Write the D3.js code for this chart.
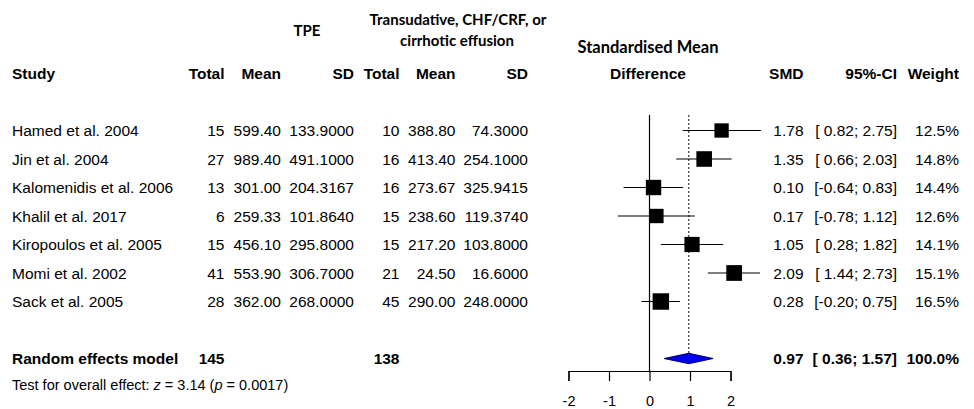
<!DOCTYPE html>
<html>
<head>
<meta charset="utf-8">
<script src="https://cdn.jsdelivr.net/npm/d3@7"></script>
<style>
  html, body { margin: 0; padding: 0; background: #fff; }
  svg text { white-space: pre; }
</style>
</head>
<body>
<svg id="chart" width="974" height="409"></svg>
<script>
// Forest plot: pleural fluid levels, TPE vs transudative effusions (SMD, random effects)
const studies = [
  "Hamed et al. 2004", "Jin et al. 2004", "Kalomenidis et al. 2006",
  "Khalil et al. 2017", "Kiropoulos et al. 2005", "Momi et al. 2002", "Sack et al. 2005"
];
const tpeTotal = [15, 27, 13, 6, 15, 41, 28];
const tpeMean = [599.40, 989.40, 301.00, 259.33, 456.10, 553.90, 362.00];
const tpeSD = [133.9000, 491.1000, 204.3167, 101.8640, 295.8000, 306.7000, 268.0000];
const ctrlTotal = [10, 16, 16, 15, 15, 21, 45];
const ctrlMean = [388.80, 413.40, 273.67, 238.60, 217.20, 24.50, 290.00];
const ctrlSD = [74.3000, 254.1000, 325.9415, 119.3740, 103.8000, 16.6000, 248.0000];
const smd = [1.78, 1.35, 0.10, 0.17, 1.05, 2.09, 0.28];
const ciLow = [0.82, 0.66, -0.64, -0.78, 0.28, 1.44, -0.20];
const ciHigh = [2.75, 2.03, 0.83, 1.12, 1.82, 2.73, 0.75];
const weights = [12.5, 14.8, 14.4, 12.6, 14.1, 15.1, 16.5];

const pooledLabel = "Random effects model";
const pooledTpeTotal = 145;
const pooledCtrlTotal = 138;
const pooledSMD = 0.97;
const pooledLow = 0.36;
const pooledHigh = 1.57;
const pooledWeight = 100.0;
const overallZ = "3.14";
const overallP = "0.0017";

const xTicks = [-2, -1, 0, 1, 2];

const svg = d3.select("#chart");
const ARIAL = "'Liberation Sans', Arial, sans-serif";
const CAL = "Lato, 'Open Sans', sans-serif";
const FS = 15.5;

const x = d3.scaleLinear().domain([-2, 2]).range([568.5, 730.5]);
const y = d3.scaleLinear().domain([0, studies.length - 1]).range([130.5, 301.5]);
const yPooled = 358.5;
const axisY = 371;

// column anchors (right-aligned text columns)
const col = {
  study: 12, tpeN: 224.5, tpeM: 281, tpeS: 354,
  ctlN: 399.5, ctlM: 455.5, ctlS: 528, smd: 803.5, ci: 897, w: 959
};

const fmtCI = (lo, hi) => "[" + (lo >= 0 ? " " : "") + lo.toFixed(2) + "; " + hi.toFixed(2) + "]";

function txt(g, xPos, yPos, s, anchor, opts = {}) {
  return g.append("text")
    .attr("x", xPos).attr("y", yPos)
    .attr("text-anchor", anchor)
    .attr("dominant-baseline", "central")
    .attr("font-family", opts.family || ARIAL)
    .attr("font-size", opts.size || FS)
    .attr("font-weight", opts.bold ? "bold" : "normal")
    .attr("fill", "#000")
    .text(s);
}

// header
const head = svg.append("g");
txt(head, 307, 30, "TPE", "middle", { family: CAL, bold: true, size: 15 });
txt(head, 458, 19, "Transudative, CHF/CRF, or", "middle", { family: CAL, bold: true, size: 15 });
txt(head, 457, 40, "cirrhotic effusion", "middle", { family: CAL, bold: true, size: 15 });
txt(head, 648, 46.5, "Standardised Mean", "middle", { family: CAL, bold: true, size: 16.5 });
const hy = 73.5;
txt(head, col.study, hy, "Study", "start", { bold: true });
txt(head, col.tpeN, hy, "Total", "end", { bold: true });
txt(head, col.tpeM, hy, "Mean", "end", { bold: true });
txt(head, col.tpeS, hy, "SD", "end", { bold: true });
txt(head, col.ctlN, hy, "Total", "end", { bold: true });
txt(head, col.ctlM, hy, "Mean", "end", { bold: true });
txt(head, col.ctlS, hy, "SD", "end", { bold: true });
txt(head, 648, hy, "Difference", "middle", { bold: true });
txt(head, col.smd, hy, "SMD", "end", { bold: true });
txt(head, col.ci, hy, "95%-CI", "end", { bold: true });
txt(head, col.w, hy, "Weight", "end", { bold: true });

// reference lines
svg.append("line")
  .attr("x1", x(0)).attr("x2", x(0))
  .attr("y1", 115).attr("y2", axisY)
  .attr("stroke", "#000").attr("stroke-width", 1.2);
svg.append("line")
  .attr("x1", x(pooledSMD)).attr("x2", x(pooledSMD))
  .attr("y1", 115).attr("y2", yPooled - 5)
  .attr("stroke", "#333").attr("stroke-width", 1.2)
  .attr("stroke-dasharray", "2,2");

// study rows
const rows = svg.append("g");
studies.forEach((name, i) => {
  const yy = y(i);
  txt(rows, col.study, yy, name, "start");
  txt(rows, col.tpeN, yy, String(tpeTotal[i]), "end");
  txt(rows, col.tpeM, yy, tpeMean[i].toFixed(2), "end");
  txt(rows, col.tpeS, yy, tpeSD[i].toFixed(4), "end");
  txt(rows, col.ctlN, yy, String(ctrlTotal[i]), "end");
  txt(rows, col.ctlM, yy, ctrlMean[i].toFixed(2), "end");
  txt(rows, col.ctlS, yy, ctrlSD[i].toFixed(4), "end");
  txt(rows, col.smd, yy, smd[i].toFixed(2), "end");
  txt(rows, col.ci, yy, fmtCI(ciLow[i], ciHigh[i]), "end");
  txt(rows, col.w, yy, weights[i].toFixed(1) + "%", "end");
});

// confidence intervals and weighted squares
const marks = svg.append("g");
marks.selectAll("line.ci").data(studies).join("line")
  .attr("class", "ci")
  .attr("x1", (d, i) => x(ciLow[i])).attr("x2", (d, i) => x(ciHigh[i]))
  .attr("y1", (d, i) => y(i)).attr("y2", (d, i) => y(i))
  .attr("stroke", "#000").attr("stroke-width", 1.2);
const side = w => 4.05 * Math.sqrt(w);
marks.selectAll("rect.box").data(studies).join("rect")
  .attr("class", "box")
  .attr("x", (d, i) => x(smd[i]) - side(weights[i]) / 2)
  .attr("y", (d, i) => y(i) - side(weights[i]) / 2)
  .attr("width", (d, i) => side(weights[i]))
  .attr("height", (d, i) => side(weights[i]))
  .attr("fill", "#000");

// pooled estimate
const dh = 5.2;
svg.append("path")
  .attr("d", `M${x(pooledLow)},${yPooled} L${x(pooledSMD)},${yPooled - dh} L${x(pooledHigh)},${yPooled} L${x(pooledSMD)},${yPooled + dh} Z`)
  .attr("fill", "#0000ee").attr("stroke", "#000066").attr("stroke-width", 1);

const pooled = svg.append("g");
txt(pooled, col.study, yPooled, pooledLabel, "start", { bold: true });
txt(pooled, col.tpeN, yPooled, String(pooledTpeTotal), "end", { bold: true });
txt(pooled, col.ctlN, yPooled, String(pooledCtrlTotal), "end", { bold: true });
txt(pooled, col.smd, yPooled, pooledSMD.toFixed(2), "end", { bold: true });
txt(pooled, col.ci, yPooled, fmtCI(pooledLow, pooledHigh), "end", { bold: true });
txt(pooled, col.w, yPooled, pooledWeight.toFixed(1) + "%", "end", { bold: true });

// overall effect test
const t = svg.append("text")
  .attr("x", col.study).attr("y", 385)
  .attr("dominant-baseline", "central")
  .attr("font-family", ARIAL).attr("font-size", 14.5).attr("fill", "#000");
t.append("tspan").text("Test for overall effect: ");
t.append("tspan").attr("font-style", "italic").text("z");
t.append("tspan").text(" = " + overallZ + " (");
t.append("tspan").attr("font-style", "italic").text("p");
t.append("tspan").text(" = " + overallP + ")");

// x axis
const axis = d3.axisBottom(x).tickValues(xTicks).tickSize(10).tickSizeOuter(10).tickPadding(15)
  .tickFormat(d3.format("d"));
const ag = svg.append("g").attr("transform", `translate(0,${axisY})`).call(axis);
ag.select(".domain").attr("stroke", "#000").attr("stroke-width", 1.2);
ag.selectAll(".tick line").attr("stroke", "#000").attr("stroke-width", 1.2);
ag.selectAll(".tick text")
  .attr("font-family", ARIAL).attr("font-size", 14.5).attr("fill", "#000")
  .text(d => d < 0 ? "-" + Math.abs(d) : String(d));
</script>
</body>
</html>
